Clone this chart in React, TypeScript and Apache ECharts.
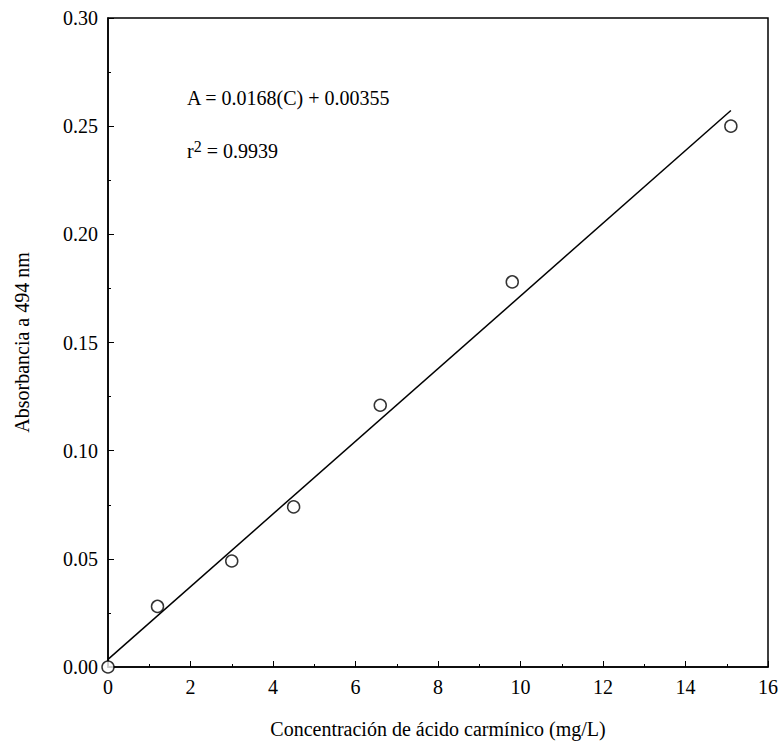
import React, { useEffect, useRef } from "react";
import * as echarts from "echarts";

const concentrations = [0, 1.2, 3.0, 4.5, 6.6, 9.8, 15.1];
const absorbances = [0.0, 0.028, 0.049, 0.074, 0.121, 0.178, 0.25];
const fitX = [0, 15.1];
const slope = 0.0168;
const intercept = 0.00355;

export default function App() {
  const ref = useRef<HTMLDivElement>(null);
  useEffect(() => {
    document.body.style.margin = "0";
    document.body.style.overflow = "hidden";
    const chart = echarts.init(ref.current!, null, { renderer: "svg" });
    const font = "Liberation Serif";
    const axisCommon = {
      axisLine: { show: true, onZero: false, lineStyle: { color: "#000", width: 1.5 } },
      axisTick: { show: true, inside: true, length: 6, lineStyle: { color: "#000" } },
      minorTick: { show: true, splitNumber: 2, length: 3, lineStyle: { color: "#000" } },
      splitLine: { show: false },
      axisLabel: { color: "#000", fontFamily: font, fontSize: 20 },
      nameTextStyle: { color: "#000", fontFamily: font, fontSize: 20 },
    };
    chart.setOption({
      animation: false,
      grid: { left: 108, top: 18, right: 15, bottom: 88, outerBoundsMode: "none", containLabel: false, show: true, borderColor: "#000", borderWidth: 1.5 },
      xAxis: {
        type: "value", min: 0, max: 16, interval: 2,
        name: "Concentración de ácido carmínico (mg/L)", nameLocation: "middle", nameGap: 52,
        ...axisCommon,
        axisLabel: { ...axisCommon.axisLabel, margin: 10 },
      },
      yAxis: {
        type: "value", min: 0, max: 0.3, interval: 0.05,
        name: "Absorbancia a 494 nm", nameLocation: "middle", nameGap: 76,
        ...axisCommon,
        axisLabel: { ...axisCommon.axisLabel, formatter: (v: number) => v.toFixed(2), margin: 10 },
      },
      series: [
        {
          type: "line",
          data: fitX.map((x) => [x, slope * x + intercept]),
          symbol: "none",
          lineStyle: { color: "#000", width: 1.5 },
        },
        {
          type: "scatter",
          data: concentrations.map((c, i) => [c, absorbances[i]]),
          symbol: "circle",
          symbolSize: 12,
          itemStyle: { color: "#fff", borderColor: "#000", borderWidth: 1.5 },
        },
      ],
      graphic: [
        { type: "text", left: 187, top: 88, style: { text: "A = 0.0168(C) + 0.00355", font: `20px '${font}'`, fill: "#000" } },
        {
          type: "text", left: 187, top: 138,
          style: {
            text: "r{s|2} = 0.9939",
            font: `20px '${font}'`, fill: "#000",
            rich: { s: { fontSize: 16, fontFamily: font, verticalAlign: "top", padding: [0, 0, 10, 0] } },
          },
        },
      ],
    });
    return () => chart.dispose();
  }, []);
  return <div ref={ref} style={{ width: 783, height: 755 }} />;
}
